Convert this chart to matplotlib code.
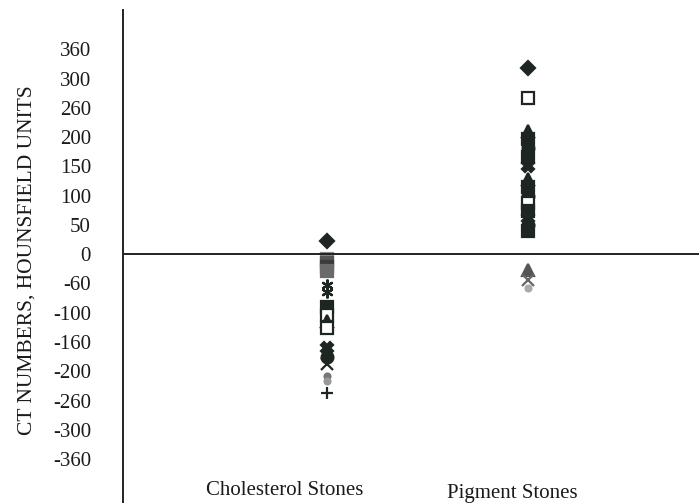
import numpy as np
import matplotlib.pyplot as plt

# CT numbers (HU) of individual stones
cholesterol_hu = [22, -10, -18, -26, -34, -62, -72, -92, -104, -118, -132,
                  -168, -180, -190, -210, -220, -244]
pigment_hu = [322, 274, 212, 196, 182, 166, 150, 128, 114, 100, 88, 74,
              62, 50, 40, -32, -52, -66]

categories = ["Cholesterol Stones", "Pigment Stones"]
tick_values = [-360, -300, -260, -200, -160, -100, -60, 0,
               50, 100, 150, 200, 260, 300, 360]

# printed ticks are evenly spaced even though the values are not
xp = np.concatenate([[-2000], tick_values, [2000]])
fp = np.concatenate([[-7 - 1640 / 50], np.arange(15) - 7, [7 + 1640 / 50]])


def forward(v):
    return np.interp(v, xp, fp)


def inverse(p):
    return np.interp(p, fp, xp)


plt.rcParams['font.family'] = ['Liberation Serif', 'DejaVu Serif']
ink = '#1d2620'

chol_style = [('D', ink), ('s', '#8a8a8a'), ('s', '#555555'), ('s', '#3a3a3a'),
              ('s', '#6a6a6a'), ((6, 2, 0), ink), ((6, 2, 0), ink),
              ('s', ink), ('s', 'w'), ('^', ink), ('s', 'w'),
              ('X', ink), ('o', ink), ('x', ink), ('.', '#777777'),
              ('.', '#999999'), ('+', ink)]
pig_style = [('D', ink), ('s', 'w'), ('^', ink), ('s', ink), ('o', ink),
             ('s', ink), ('X', ink), ('^', ink), ('s', ink), ('o', ink),
             ('s', 'w'), ('s', ink), ('X', ink), ('o', ink), ('s', ink),
             ('^', '#555555'), ('x', '#666666'), ('.', '#aaaaaa')]

fig = plt.figure(figsize=(6.99, 5.03), dpi=100)
ax = fig.add_axes([123 / 699, 0, 1 - 123 / 699, 1 - 10 / 503])
ax.set_yscale('function', functions=(forward, inverse))

for xpos, values, styles in [(1, cholesterol_hu, chol_style),
                             (2, pigment_hu, pig_style)]:
    for v, (m, fc) in zip(values, styles):
        ec = ink if fc == 'w' else fc
        ms = 7 if m == 'D' else 8.5
        ax.plot([xpos], [v], linestyle='none', marker=m, markersize=ms,
                markerfacecolor=fc, markeredgecolor=ec, markeredgewidth=1.6)

ax.axhline(0, color='#222222', linewidth=1.4)
ax.set_xlim(-0.015, 2.85)
ax.set_ylim(-435, 427)
ax.set_yticks(tick_values)
ax.set_yticklabels([str(t) for t in tick_values])
ax.set_xticks([])
ax.tick_params(axis='y', length=0, pad=23, labelsize=15, colors='#1a1a1a')

for s in ['top', 'right', 'bottom']:
    ax.spines[s].set_visible(False)
ax.spines['left'].set_linewidth(1.4)
ax.spines['left'].set_color('#222222')

ax.text(0.79, 0.026, categories[0], fontsize=15, ha='center', va='center',
        transform=ax.get_xaxis_transform(), color='#1a1a1a')
ax.text(1.92, 0.02, categories[1], fontsize=15, ha='center', va='center',
        transform=ax.get_xaxis_transform(), color='#1a1a1a')

fig.text(27 / 699, 1 - 260 / 503, "CT NUMBERS, HOUNSFIELD UNITS",
         rotation=90, ha='center', va='center', fontsize=15.5, color='#1a1a1a')

fig.savefig("out.png", dpi=100)
